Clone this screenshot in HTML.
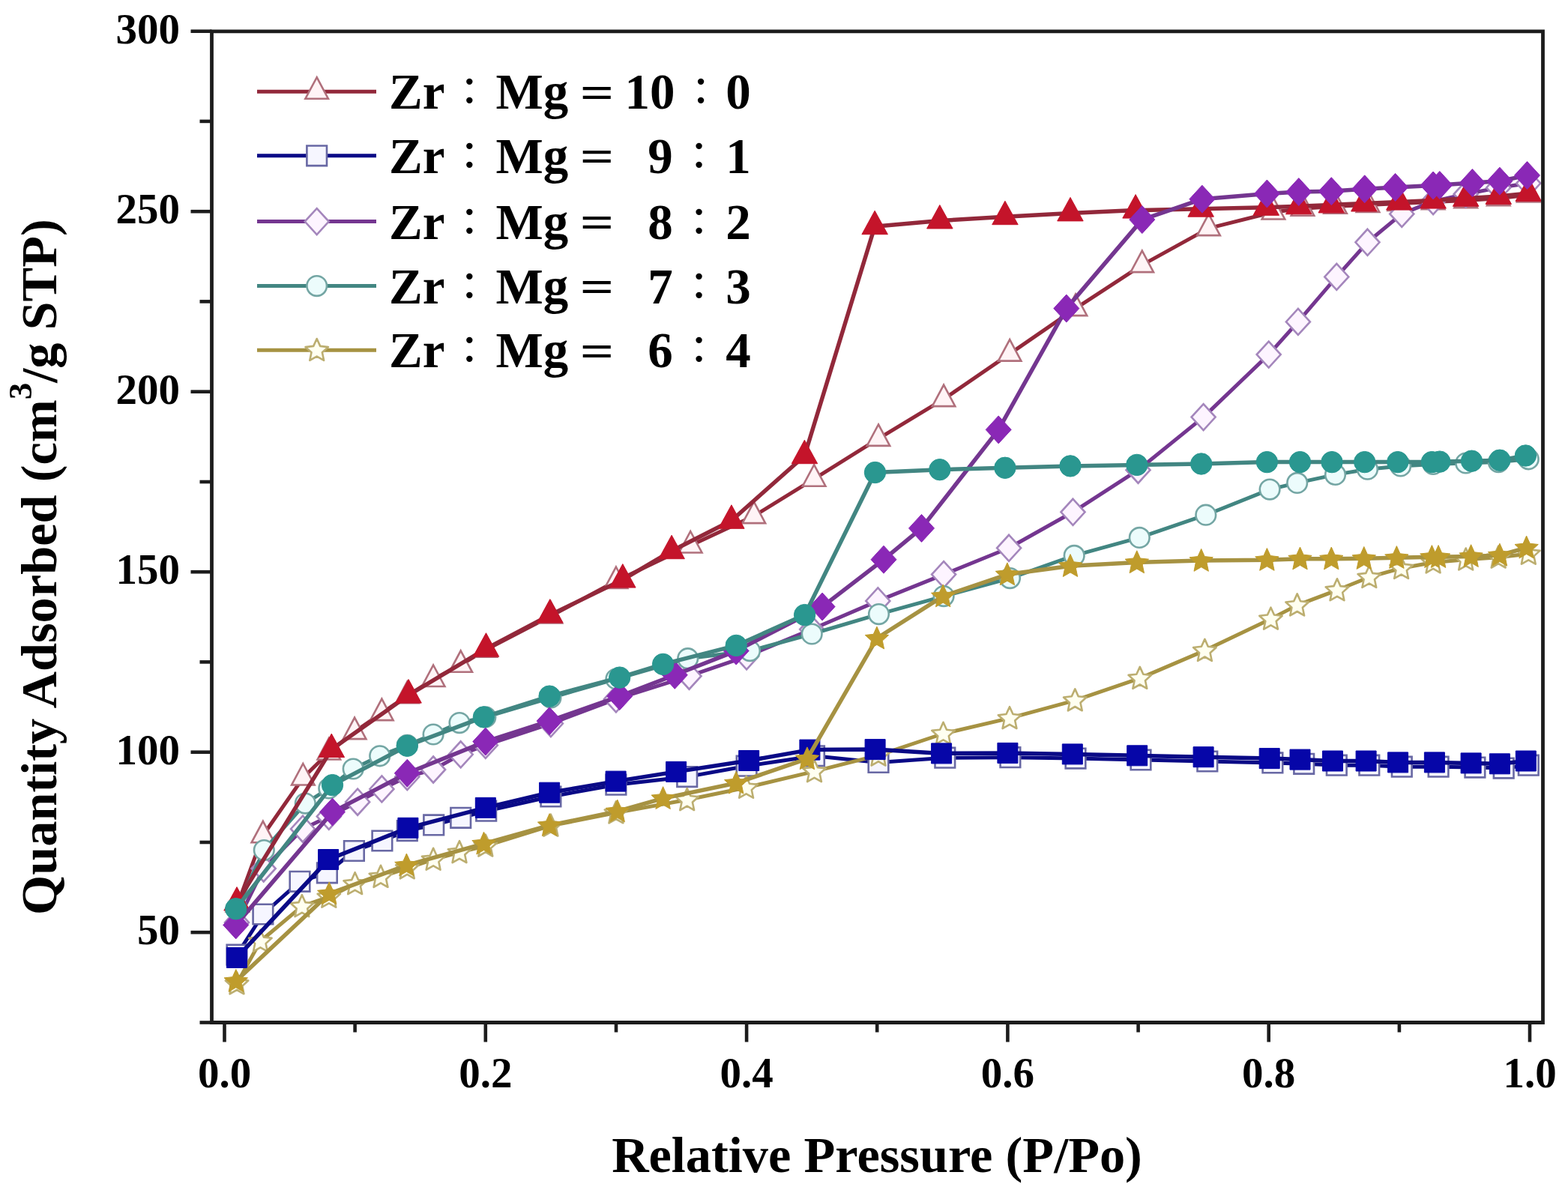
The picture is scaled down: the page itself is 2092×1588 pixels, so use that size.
<!DOCTYPE html>
<html><head><meta charset="utf-8"><title>Adsorption isotherms</title>
<style>html,body{margin:0;padding:0;background:#fff;overflow:hidden}svg{display:block}text{font-family:"Liberation Serif","Times New Roman",serif;font-weight:bold;fill:#000}.cj{font-family:"Liberation Serif","NanumGothic",sans-serif;font-size:55px}</style></head><body>
<svg width="2092" height="1588" viewBox="0 0 2092 1588">
<rect width="2092" height="1588" fill="#fff"/>
<g id="data">
<polyline points="316.9,1207.0 350.9,1114.8 404.3,1038.0 438.8,1004.0 473.1,976.6 509.4,951.6 543.3,928.6 578.1,906.5 614.7,887.3 647.8,867.2 734.9,822.0 821.9,775.5 921.2,728.0 1005.9,688.6 1086.1,639.2 1172.0,585.4 1259.1,532.6 1347.2,472.1 1435.0,411.6 1523.8,353.6 1612.6,304.6 1699.0,283.0 1738.0,278.2 1781.5,275.3 1825.1,273.4 1866.9,271.5 1912.1,269.6 1955.7,267.6 1999.2,264.8 2039.3,260.0" fill="none" stroke="#92283a" stroke-width="5" stroke-linejoin="round" stroke-linecap="round"/>
<path d="M316.9,1188.0L332.2,1216.5L301.7,1216.5Z" fill="#fff4f6" stroke="#b0707c" stroke-width="2.6" stroke-linejoin="miter"/>
<path d="M350.9,1095.8L366.1,1124.3L335.6,1124.3Z" fill="#fff4f6" stroke="#b0707c" stroke-width="2.6" stroke-linejoin="miter"/>
<path d="M404.3,1019.0L419.6,1047.5L389.1,1047.5Z" fill="#fff4f6" stroke="#b0707c" stroke-width="2.6" stroke-linejoin="miter"/>
<path d="M438.8,985.0L454.1,1013.5L423.6,1013.5Z" fill="#fff4f6" stroke="#b0707c" stroke-width="2.6" stroke-linejoin="miter"/>
<path d="M473.1,957.6L488.4,986.1L457.9,986.1Z" fill="#fff4f6" stroke="#b0707c" stroke-width="2.6" stroke-linejoin="miter"/>
<path d="M509.4,932.6L524.6,961.1L494.1,961.1Z" fill="#fff4f6" stroke="#b0707c" stroke-width="2.6" stroke-linejoin="miter"/>
<path d="M543.3,909.6L558.6,938.1L528.1,938.1Z" fill="#fff4f6" stroke="#b0707c" stroke-width="2.6" stroke-linejoin="miter"/>
<path d="M578.1,887.5L593.4,916.0L562.9,916.0Z" fill="#fff4f6" stroke="#b0707c" stroke-width="2.6" stroke-linejoin="miter"/>
<path d="M614.7,868.3L630.0,896.8L599.5,896.8Z" fill="#fff4f6" stroke="#b0707c" stroke-width="2.6" stroke-linejoin="miter"/>
<path d="M647.8,848.2L663.0,876.7L632.5,876.7Z" fill="#fff4f6" stroke="#b0707c" stroke-width="2.6" stroke-linejoin="miter"/>
<path d="M734.9,803.0L750.1,831.5L719.6,831.5Z" fill="#fff4f6" stroke="#b0707c" stroke-width="2.6" stroke-linejoin="miter"/>
<path d="M821.9,756.5L837.2,785.0L806.7,785.0Z" fill="#fff4f6" stroke="#b0707c" stroke-width="2.6" stroke-linejoin="miter"/>
<path d="M921.2,709.0L936.5,737.5L906.0,737.5Z" fill="#fff4f6" stroke="#b0707c" stroke-width="2.6" stroke-linejoin="miter"/>
<path d="M1005.9,669.6L1021.1,698.1L990.6,698.1Z" fill="#fff4f6" stroke="#b0707c" stroke-width="2.6" stroke-linejoin="miter"/>
<path d="M1086.1,620.2L1101.4,648.7L1070.9,648.7Z" fill="#fff4f6" stroke="#b0707c" stroke-width="2.6" stroke-linejoin="miter"/>
<path d="M1172.0,566.4L1187.2,594.9L1156.7,594.9Z" fill="#fff4f6" stroke="#b0707c" stroke-width="2.6" stroke-linejoin="miter"/>
<path d="M1259.1,513.6L1274.3,542.1L1243.8,542.1Z" fill="#fff4f6" stroke="#b0707c" stroke-width="2.6" stroke-linejoin="miter"/>
<path d="M1347.2,453.1L1362.4,481.6L1331.9,481.6Z" fill="#fff4f6" stroke="#b0707c" stroke-width="2.6" stroke-linejoin="miter"/>
<path d="M1435.0,392.6L1450.2,421.1L1419.7,421.1Z" fill="#fff4f6" stroke="#b0707c" stroke-width="2.6" stroke-linejoin="miter"/>
<path d="M1523.8,334.6L1539.0,363.1L1508.5,363.1Z" fill="#fff4f6" stroke="#b0707c" stroke-width="2.6" stroke-linejoin="miter"/>
<path d="M1612.6,285.6L1627.8,314.1L1597.3,314.1Z" fill="#fff4f6" stroke="#b0707c" stroke-width="2.6" stroke-linejoin="miter"/>
<path d="M1699.0,264.0L1714.2,292.5L1683.7,292.5Z" fill="#fff4f6" stroke="#b0707c" stroke-width="2.6" stroke-linejoin="miter"/>
<path d="M1738.0,259.2L1753.2,287.7L1722.7,287.7Z" fill="#fff4f6" stroke="#b0707c" stroke-width="2.6" stroke-linejoin="miter"/>
<path d="M1781.5,256.3L1796.8,284.8L1766.3,284.8Z" fill="#fff4f6" stroke="#b0707c" stroke-width="2.6" stroke-linejoin="miter"/>
<path d="M1825.1,254.4L1840.3,282.9L1809.8,282.9Z" fill="#fff4f6" stroke="#b0707c" stroke-width="2.6" stroke-linejoin="miter"/>
<path d="M1866.9,252.5L1882.1,281.0L1851.6,281.0Z" fill="#fff4f6" stroke="#b0707c" stroke-width="2.6" stroke-linejoin="miter"/>
<path d="M1912.1,250.6L1927.4,279.1L1896.9,279.1Z" fill="#fff4f6" stroke="#b0707c" stroke-width="2.6" stroke-linejoin="miter"/>
<path d="M1955.7,248.6L1970.9,277.1L1940.4,277.1Z" fill="#fff4f6" stroke="#b0707c" stroke-width="2.6" stroke-linejoin="miter"/>
<path d="M1999.2,245.8L2014.5,274.3L1984.0,274.3Z" fill="#fff4f6" stroke="#b0707c" stroke-width="2.6" stroke-linejoin="miter"/>
<path d="M2039.3,241.0L2054.5,269.5L2024.0,269.5Z" fill="#fff4f6" stroke="#b0707c" stroke-width="2.6" stroke-linejoin="miter"/>
<polyline points="316.0,1274.2 350.9,1220.0 400.0,1176.3 436.4,1164.8 472.4,1135.5 509.9,1122.0 543.3,1108.6 578.7,1100.9 614.7,1091.3 648.7,1082.2 734.9,1063.0 821.9,1047.2 916.7,1036.6 996.1,1022.2 1086.5,1008.8 1172.0,1017.4 1260.8,1011.2 1347.9,1010.7 1435.0,1012.1 1522.0,1014.0 1610.8,1016.0 1697.9,1017.9 1739.7,1019.3 1783.3,1021.2 1826.8,1021.2 1870.3,1023.2 1919.1,1023.2 1967.9,1024.1 2006.2,1025.1 2039.3,1021.2" fill="none" stroke="#0a0a86" stroke-width="5" stroke-linejoin="round" stroke-linecap="round"/>
<path d="M302.7,1260.9h26.6v26.6h-26.6Z" fill="#f6f6ff" stroke="#6868a4" stroke-width="2.6" stroke-linejoin="miter"/>
<path d="M337.6,1206.7h26.6v26.6h-26.6Z" fill="#f6f6ff" stroke="#6868a4" stroke-width="2.6" stroke-linejoin="miter"/>
<path d="M386.7,1163.0h26.6v26.6h-26.6Z" fill="#f6f6ff" stroke="#6868a4" stroke-width="2.6" stroke-linejoin="miter"/>
<path d="M423.1,1151.5h26.6v26.6h-26.6Z" fill="#f6f6ff" stroke="#6868a4" stroke-width="2.6" stroke-linejoin="miter"/>
<path d="M459.1,1122.2h26.6v26.6h-26.6Z" fill="#f6f6ff" stroke="#6868a4" stroke-width="2.6" stroke-linejoin="miter"/>
<path d="M496.6,1108.7h26.6v26.6h-26.6Z" fill="#f6f6ff" stroke="#6868a4" stroke-width="2.6" stroke-linejoin="miter"/>
<path d="M530.0,1095.3h26.6v26.6h-26.6Z" fill="#f6f6ff" stroke="#6868a4" stroke-width="2.6" stroke-linejoin="miter"/>
<path d="M565.4,1087.6h26.6v26.6h-26.6Z" fill="#f6f6ff" stroke="#6868a4" stroke-width="2.6" stroke-linejoin="miter"/>
<path d="M601.4,1078.0h26.6v26.6h-26.6Z" fill="#f6f6ff" stroke="#6868a4" stroke-width="2.6" stroke-linejoin="miter"/>
<path d="M635.4,1068.9h26.6v26.6h-26.6Z" fill="#f6f6ff" stroke="#6868a4" stroke-width="2.6" stroke-linejoin="miter"/>
<path d="M721.6,1049.7h26.6v26.6h-26.6Z" fill="#f6f6ff" stroke="#6868a4" stroke-width="2.6" stroke-linejoin="miter"/>
<path d="M808.6,1033.9h26.6v26.6h-26.6Z" fill="#f6f6ff" stroke="#6868a4" stroke-width="2.6" stroke-linejoin="miter"/>
<path d="M903.4,1023.3h26.6v26.6h-26.6Z" fill="#f6f6ff" stroke="#6868a4" stroke-width="2.6" stroke-linejoin="miter"/>
<path d="M982.8,1008.9h26.6v26.6h-26.6Z" fill="#f6f6ff" stroke="#6868a4" stroke-width="2.6" stroke-linejoin="miter"/>
<path d="M1073.2,995.5h26.6v26.6h-26.6Z" fill="#f6f6ff" stroke="#6868a4" stroke-width="2.6" stroke-linejoin="miter"/>
<path d="M1158.7,1004.1h26.6v26.6h-26.6Z" fill="#f6f6ff" stroke="#6868a4" stroke-width="2.6" stroke-linejoin="miter"/>
<path d="M1247.5,997.9h26.6v26.6h-26.6Z" fill="#f6f6ff" stroke="#6868a4" stroke-width="2.6" stroke-linejoin="miter"/>
<path d="M1334.6,997.4h26.6v26.6h-26.6Z" fill="#f6f6ff" stroke="#6868a4" stroke-width="2.6" stroke-linejoin="miter"/>
<path d="M1421.7,998.8h26.6v26.6h-26.6Z" fill="#f6f6ff" stroke="#6868a4" stroke-width="2.6" stroke-linejoin="miter"/>
<path d="M1508.7,1000.7h26.6v26.6h-26.6Z" fill="#f6f6ff" stroke="#6868a4" stroke-width="2.6" stroke-linejoin="miter"/>
<path d="M1597.5,1002.7h26.6v26.6h-26.6Z" fill="#f6f6ff" stroke="#6868a4" stroke-width="2.6" stroke-linejoin="miter"/>
<path d="M1684.6,1004.6h26.6v26.6h-26.6Z" fill="#f6f6ff" stroke="#6868a4" stroke-width="2.6" stroke-linejoin="miter"/>
<path d="M1726.4,1006.0h26.6v26.6h-26.6Z" fill="#f6f6ff" stroke="#6868a4" stroke-width="2.6" stroke-linejoin="miter"/>
<path d="M1770.0,1007.9h26.6v26.6h-26.6Z" fill="#f6f6ff" stroke="#6868a4" stroke-width="2.6" stroke-linejoin="miter"/>
<path d="M1813.5,1007.9h26.6v26.6h-26.6Z" fill="#f6f6ff" stroke="#6868a4" stroke-width="2.6" stroke-linejoin="miter"/>
<path d="M1857.0,1009.9h26.6v26.6h-26.6Z" fill="#f6f6ff" stroke="#6868a4" stroke-width="2.6" stroke-linejoin="miter"/>
<path d="M1905.8,1009.9h26.6v26.6h-26.6Z" fill="#f6f6ff" stroke="#6868a4" stroke-width="2.6" stroke-linejoin="miter"/>
<path d="M1954.6,1010.8h26.6v26.6h-26.6Z" fill="#f6f6ff" stroke="#6868a4" stroke-width="2.6" stroke-linejoin="miter"/>
<path d="M1992.9,1011.8h26.6v26.6h-26.6Z" fill="#f6f6ff" stroke="#6868a4" stroke-width="2.6" stroke-linejoin="miter"/>
<path d="M2026.0,1007.9h26.6v26.6h-26.6Z" fill="#f6f6ff" stroke="#6868a4" stroke-width="2.6" stroke-linejoin="miter"/>
<polyline points="316.0,1231.0 351.7,1159.0 404.0,1106.2 438.8,1089.4 477.1,1070.2 509.4,1052.9 543.3,1036.6 578.1,1027.0 614.7,1006.8 647.8,994.4 734.9,965.6 821.9,932.9 919.5,902.2 996.1,875.8 1083.2,839.8 1171.3,801.9 1259.1,766.6 1346.1,731.3 1431.5,683.3 1518.5,627.2 1605.6,556.6 1692.7,473.1 1731.9,429.4 1783.3,369.4 1824.5,323.3 1870.3,285.4 1912.1,268.6 1955.7,259.0 1999.2,250.4 2039.3,244.6" fill="none" stroke="#743690" stroke-width="5" stroke-linejoin="round" stroke-linecap="round"/>
<path d="M316.0,1213.5L332.0,1231.0L316.0,1248.5L300.0,1231.0Z" fill="#fdf4ff" stroke="#a486bc" stroke-width="2.6" stroke-linejoin="miter"/>
<path d="M351.7,1141.5L367.7,1159.0L351.7,1176.5L335.7,1159.0Z" fill="#fdf4ff" stroke="#a486bc" stroke-width="2.6" stroke-linejoin="miter"/>
<path d="M404.0,1088.7L420.0,1106.2L404.0,1123.7L388.0,1106.2Z" fill="#fdf4ff" stroke="#a486bc" stroke-width="2.6" stroke-linejoin="miter"/>
<path d="M438.8,1071.9L454.8,1089.4L438.8,1106.9L422.8,1089.4Z" fill="#fdf4ff" stroke="#a486bc" stroke-width="2.6" stroke-linejoin="miter"/>
<path d="M477.1,1052.7L493.1,1070.2L477.1,1087.7L461.1,1070.2Z" fill="#fdf4ff" stroke="#a486bc" stroke-width="2.6" stroke-linejoin="miter"/>
<path d="M509.4,1035.4L525.4,1052.9L509.4,1070.4L493.4,1052.9Z" fill="#fdf4ff" stroke="#a486bc" stroke-width="2.6" stroke-linejoin="miter"/>
<path d="M543.3,1019.1L559.3,1036.6L543.3,1054.1L527.3,1036.6Z" fill="#fdf4ff" stroke="#a486bc" stroke-width="2.6" stroke-linejoin="miter"/>
<path d="M578.1,1009.5L594.1,1027.0L578.1,1044.5L562.1,1027.0Z" fill="#fdf4ff" stroke="#a486bc" stroke-width="2.6" stroke-linejoin="miter"/>
<path d="M614.7,989.3L630.7,1006.8L614.7,1024.3L598.7,1006.8Z" fill="#fdf4ff" stroke="#a486bc" stroke-width="2.6" stroke-linejoin="miter"/>
<path d="M647.8,976.9L663.8,994.4L647.8,1011.9L631.8,994.4Z" fill="#fdf4ff" stroke="#a486bc" stroke-width="2.6" stroke-linejoin="miter"/>
<path d="M734.9,948.1L750.9,965.6L734.9,983.1L718.9,965.6Z" fill="#fdf4ff" stroke="#a486bc" stroke-width="2.6" stroke-linejoin="miter"/>
<path d="M821.9,915.4L837.9,932.9L821.9,950.4L805.9,932.9Z" fill="#fdf4ff" stroke="#a486bc" stroke-width="2.6" stroke-linejoin="miter"/>
<path d="M919.5,884.7L935.5,902.2L919.5,919.7L903.5,902.2Z" fill="#fdf4ff" stroke="#a486bc" stroke-width="2.6" stroke-linejoin="miter"/>
<path d="M996.1,858.3L1012.1,875.8L996.1,893.3L980.1,875.8Z" fill="#fdf4ff" stroke="#a486bc" stroke-width="2.6" stroke-linejoin="miter"/>
<path d="M1083.2,822.3L1099.2,839.8L1083.2,857.3L1067.2,839.8Z" fill="#fdf4ff" stroke="#a486bc" stroke-width="2.6" stroke-linejoin="miter"/>
<path d="M1171.3,784.4L1187.3,801.9L1171.3,819.4L1155.3,801.9Z" fill="#fdf4ff" stroke="#a486bc" stroke-width="2.6" stroke-linejoin="miter"/>
<path d="M1259.1,749.1L1275.1,766.6L1259.1,784.1L1243.1,766.6Z" fill="#fdf4ff" stroke="#a486bc" stroke-width="2.6" stroke-linejoin="miter"/>
<path d="M1346.1,713.8L1362.1,731.3L1346.1,748.8L1330.1,731.3Z" fill="#fdf4ff" stroke="#a486bc" stroke-width="2.6" stroke-linejoin="miter"/>
<path d="M1431.5,665.8L1447.5,683.3L1431.5,700.8L1415.5,683.3Z" fill="#fdf4ff" stroke="#a486bc" stroke-width="2.6" stroke-linejoin="miter"/>
<path d="M1518.5,609.7L1534.5,627.2L1518.5,644.7L1502.5,627.2Z" fill="#fdf4ff" stroke="#a486bc" stroke-width="2.6" stroke-linejoin="miter"/>
<path d="M1605.6,539.1L1621.6,556.6L1605.6,574.1L1589.6,556.6Z" fill="#fdf4ff" stroke="#a486bc" stroke-width="2.6" stroke-linejoin="miter"/>
<path d="M1692.7,455.6L1708.7,473.1L1692.7,490.6L1676.7,473.1Z" fill="#fdf4ff" stroke="#a486bc" stroke-width="2.6" stroke-linejoin="miter"/>
<path d="M1731.9,411.9L1747.9,429.4L1731.9,446.9L1715.9,429.4Z" fill="#fdf4ff" stroke="#a486bc" stroke-width="2.6" stroke-linejoin="miter"/>
<path d="M1783.3,351.9L1799.3,369.4L1783.3,386.9L1767.3,369.4Z" fill="#fdf4ff" stroke="#a486bc" stroke-width="2.6" stroke-linejoin="miter"/>
<path d="M1824.5,305.8L1840.5,323.3L1824.5,340.8L1808.5,323.3Z" fill="#fdf4ff" stroke="#a486bc" stroke-width="2.6" stroke-linejoin="miter"/>
<path d="M1870.3,267.9L1886.3,285.4L1870.3,302.9L1854.3,285.4Z" fill="#fdf4ff" stroke="#a486bc" stroke-width="2.6" stroke-linejoin="miter"/>
<path d="M1912.1,251.1L1928.1,268.6L1912.1,286.1L1896.1,268.6Z" fill="#fdf4ff" stroke="#a486bc" stroke-width="2.6" stroke-linejoin="miter"/>
<path d="M1955.7,241.5L1971.7,259.0L1955.7,276.5L1939.7,259.0Z" fill="#fdf4ff" stroke="#a486bc" stroke-width="2.6" stroke-linejoin="miter"/>
<path d="M1999.2,232.9L2015.2,250.4L1999.2,267.9L1983.2,250.4Z" fill="#fdf4ff" stroke="#a486bc" stroke-width="2.6" stroke-linejoin="miter"/>
<path d="M2039.3,227.1L2055.3,244.6L2039.3,262.1L2023.3,244.6Z" fill="#fdf4ff" stroke="#a486bc" stroke-width="2.6" stroke-linejoin="miter"/>
<polyline points="316.0,1211.8 352.3,1134.5 407.3,1072.1 438.8,1052.0 471.2,1026.0 506.7,1008.8 543.3,994.4 578.1,980.0 613.0,964.6 647.8,956.9 734.9,931.0 821.9,906.0 917.7,878.7 1000.5,868.6 1083.2,846.0 1172.5,819.6 1259.1,795.6 1347.5,771.6 1433.2,741.4 1520.3,717.4 1608.8,687.2 1694.1,653.1 1730.7,644.4 1781.5,633.4 1824.5,626.2 1868.6,621.9 1912.1,619.5 1955.7,618.0 1999.2,616.6 2039.3,612.8" fill="none" stroke="#428682" stroke-width="5" stroke-linejoin="round" stroke-linecap="round"/>
<circle cx="316.0" cy="1211.8" r="13.3" fill="#ecfcfc" stroke="#74a6a4" stroke-width="2.6"/>
<circle cx="352.3" cy="1134.5" r="13.3" fill="#ecfcfc" stroke="#74a6a4" stroke-width="2.6"/>
<circle cx="407.3" cy="1072.1" r="13.3" fill="#ecfcfc" stroke="#74a6a4" stroke-width="2.6"/>
<circle cx="438.8" cy="1052.0" r="13.3" fill="#ecfcfc" stroke="#74a6a4" stroke-width="2.6"/>
<circle cx="471.2" cy="1026.0" r="13.3" fill="#ecfcfc" stroke="#74a6a4" stroke-width="2.6"/>
<circle cx="506.7" cy="1008.8" r="13.3" fill="#ecfcfc" stroke="#74a6a4" stroke-width="2.6"/>
<circle cx="543.3" cy="994.4" r="13.3" fill="#ecfcfc" stroke="#74a6a4" stroke-width="2.6"/>
<circle cx="578.1" cy="980.0" r="13.3" fill="#ecfcfc" stroke="#74a6a4" stroke-width="2.6"/>
<circle cx="613.0" cy="964.6" r="13.3" fill="#ecfcfc" stroke="#74a6a4" stroke-width="2.6"/>
<circle cx="647.8" cy="956.9" r="13.3" fill="#ecfcfc" stroke="#74a6a4" stroke-width="2.6"/>
<circle cx="734.9" cy="931.0" r="13.3" fill="#ecfcfc" stroke="#74a6a4" stroke-width="2.6"/>
<circle cx="821.9" cy="906.0" r="13.3" fill="#ecfcfc" stroke="#74a6a4" stroke-width="2.6"/>
<circle cx="917.7" cy="878.7" r="13.3" fill="#ecfcfc" stroke="#74a6a4" stroke-width="2.6"/>
<circle cx="1000.5" cy="868.6" r="13.3" fill="#ecfcfc" stroke="#74a6a4" stroke-width="2.6"/>
<circle cx="1083.2" cy="846.0" r="13.3" fill="#ecfcfc" stroke="#74a6a4" stroke-width="2.6"/>
<circle cx="1172.5" cy="819.6" r="13.3" fill="#ecfcfc" stroke="#74a6a4" stroke-width="2.6"/>
<circle cx="1259.1" cy="795.6" r="13.3" fill="#ecfcfc" stroke="#74a6a4" stroke-width="2.6"/>
<circle cx="1347.5" cy="771.6" r="13.3" fill="#ecfcfc" stroke="#74a6a4" stroke-width="2.6"/>
<circle cx="1433.2" cy="741.4" r="13.3" fill="#ecfcfc" stroke="#74a6a4" stroke-width="2.6"/>
<circle cx="1520.3" cy="717.4" r="13.3" fill="#ecfcfc" stroke="#74a6a4" stroke-width="2.6"/>
<circle cx="1608.8" cy="687.2" r="13.3" fill="#ecfcfc" stroke="#74a6a4" stroke-width="2.6"/>
<circle cx="1694.1" cy="653.1" r="13.3" fill="#ecfcfc" stroke="#74a6a4" stroke-width="2.6"/>
<circle cx="1730.7" cy="644.4" r="13.3" fill="#ecfcfc" stroke="#74a6a4" stroke-width="2.6"/>
<circle cx="1781.5" cy="633.4" r="13.3" fill="#ecfcfc" stroke="#74a6a4" stroke-width="2.6"/>
<circle cx="1824.5" cy="626.2" r="13.3" fill="#ecfcfc" stroke="#74a6a4" stroke-width="2.6"/>
<circle cx="1868.6" cy="621.9" r="13.3" fill="#ecfcfc" stroke="#74a6a4" stroke-width="2.6"/>
<circle cx="1912.1" cy="619.5" r="13.3" fill="#ecfcfc" stroke="#74a6a4" stroke-width="2.6"/>
<circle cx="1955.7" cy="618.0" r="13.3" fill="#ecfcfc" stroke="#74a6a4" stroke-width="2.6"/>
<circle cx="1999.2" cy="616.6" r="13.3" fill="#ecfcfc" stroke="#74a6a4" stroke-width="2.6"/>
<circle cx="2039.3" cy="612.8" r="13.3" fill="#ecfcfc" stroke="#74a6a4" stroke-width="2.6"/>
<polyline points="316.0,1312.6 347.4,1256.0 402.9,1209.4 438.8,1196.9 473.6,1179.4 508.0,1170.0 543.3,1158.5 578.1,1147.0 613.0,1137.4 647.8,1128.8 734.9,1101.9 821.9,1084.6 916.7,1067.3 995.6,1051.0 1086.5,1029.4 1172.0,1007.8 1258.5,979.0 1347.0,958.4 1434.3,934.6 1520.8,905.1 1607.4,868.1 1695.5,825.9 1730.7,807.6 1784.0,787.5 1826.8,770.2 1869.6,758.2 1912.1,750.5 1955.7,746.7 1999.2,743.8 2039.3,739.0" fill="none" stroke="#a69242" stroke-width="5" stroke-linejoin="round" stroke-linecap="round"/>
<path d="M316.0,1297.4L320.5,1307.3L331.3,1308.5L323.3,1315.7L325.4,1326.3L316.0,1321.0L306.6,1326.3L308.8,1315.7L300.8,1308.5L311.6,1307.3Z" fill="#fffff0" stroke="#bcae70" stroke-width="2.6" stroke-linejoin="round"/>
<path d="M347.4,1240.8L351.9,1250.6L362.6,1251.8L354.6,1259.1L356.8,1269.7L347.4,1264.4L338.0,1269.7L340.2,1259.1L332.2,1251.8L342.9,1250.6Z" fill="#fffff0" stroke="#bcae70" stroke-width="2.6" stroke-linejoin="round"/>
<path d="M402.9,1194.2L407.4,1204.1L418.2,1205.3L410.2,1212.5L412.3,1223.1L402.9,1217.8L393.5,1223.1L395.7,1212.5L387.7,1205.3L398.5,1204.1Z" fill="#fffff0" stroke="#bcae70" stroke-width="2.6" stroke-linejoin="round"/>
<path d="M438.8,1181.7L443.3,1191.6L454.0,1192.8L446.0,1200.1L448.2,1210.7L438.8,1205.3L429.4,1210.7L431.6,1200.1L423.6,1192.8L434.4,1191.6Z" fill="#fffff0" stroke="#bcae70" stroke-width="2.6" stroke-linejoin="round"/>
<path d="M473.6,1164.2L478.1,1174.1L488.9,1175.3L480.9,1182.5L483.1,1193.1L473.6,1187.8L464.2,1193.1L466.4,1182.5L458.4,1175.3L469.2,1174.1Z" fill="#fffff0" stroke="#bcae70" stroke-width="2.6" stroke-linejoin="round"/>
<path d="M508.0,1154.8L512.4,1164.7L523.2,1165.9L515.2,1173.2L517.4,1183.8L508.0,1178.4L498.6,1183.8L500.7,1173.2L492.7,1165.9L503.5,1164.7Z" fill="#fffff0" stroke="#bcae70" stroke-width="2.6" stroke-linejoin="round"/>
<path d="M543.3,1143.3L547.8,1153.2L558.5,1154.4L550.5,1161.7L552.7,1172.3L543.3,1166.9L533.9,1172.3L536.1,1161.7L528.1,1154.4L538.8,1153.2Z" fill="#fffff0" stroke="#bcae70" stroke-width="2.6" stroke-linejoin="round"/>
<path d="M578.1,1131.8L582.6,1141.7L593.4,1142.9L585.4,1150.1L587.5,1160.7L578.1,1155.4L568.7,1160.7L570.9,1150.1L562.9,1142.9L573.7,1141.7Z" fill="#fffff0" stroke="#bcae70" stroke-width="2.6" stroke-linejoin="round"/>
<path d="M613.0,1122.2L617.4,1132.1L628.2,1133.3L620.2,1140.5L622.4,1151.1L613.0,1145.8L603.6,1151.1L605.7,1140.5L597.8,1133.3L608.5,1132.1Z" fill="#fffff0" stroke="#bcae70" stroke-width="2.6" stroke-linejoin="round"/>
<path d="M647.8,1113.6L652.3,1123.4L663.0,1124.6L655.0,1131.9L657.2,1142.5L647.8,1137.2L638.4,1142.5L640.6,1131.9L632.6,1124.6L643.3,1123.4Z" fill="#fffff0" stroke="#bcae70" stroke-width="2.6" stroke-linejoin="round"/>
<path d="M734.9,1086.7L739.3,1096.5L750.1,1097.7L742.1,1105.0L744.3,1115.6L734.9,1110.3L725.5,1115.6L727.6,1105.0L719.7,1097.7L730.4,1096.5Z" fill="#fffff0" stroke="#bcae70" stroke-width="2.6" stroke-linejoin="round"/>
<path d="M821.9,1069.4L826.4,1079.3L837.2,1080.5L829.2,1087.7L831.4,1098.3L821.9,1093.0L812.5,1098.3L814.7,1087.7L806.7,1080.5L817.5,1079.3Z" fill="#fffff0" stroke="#bcae70" stroke-width="2.6" stroke-linejoin="round"/>
<path d="M916.7,1052.1L921.2,1062.0L931.9,1063.2L923.9,1070.5L926.1,1081.1L916.7,1075.7L907.3,1081.1L909.5,1070.5L901.5,1063.2L912.2,1062.0Z" fill="#fffff0" stroke="#bcae70" stroke-width="2.6" stroke-linejoin="round"/>
<path d="M995.6,1035.8L1000.0,1045.7L1010.8,1046.9L1002.8,1054.1L1005.0,1064.7L995.6,1059.4L986.2,1064.7L988.3,1054.1L980.4,1046.9L991.1,1045.7Z" fill="#fffff0" stroke="#bcae70" stroke-width="2.6" stroke-linejoin="round"/>
<path d="M1086.5,1014.2L1091.0,1024.1L1101.7,1025.3L1093.7,1032.5L1095.9,1043.1L1086.5,1037.8L1077.1,1043.1L1079.3,1032.5L1071.3,1025.3L1082.0,1024.1Z" fill="#fffff0" stroke="#bcae70" stroke-width="2.6" stroke-linejoin="round"/>
<path d="M1172.0,992.6L1176.5,1002.5L1187.2,1003.7L1179.2,1010.9L1181.4,1021.5L1172.0,1016.2L1162.6,1021.5L1164.8,1010.9L1156.8,1003.7L1167.5,1002.5Z" fill="#fffff0" stroke="#bcae70" stroke-width="2.6" stroke-linejoin="round"/>
<path d="M1258.5,963.8L1263.0,973.7L1273.8,974.9L1265.8,982.1L1267.9,992.7L1258.5,987.4L1249.1,992.7L1251.3,982.1L1243.3,974.9L1254.1,973.7Z" fill="#fffff0" stroke="#bcae70" stroke-width="2.6" stroke-linejoin="round"/>
<path d="M1347.0,943.2L1351.5,953.0L1362.2,954.2L1354.2,961.5L1356.4,972.1L1347.0,966.8L1337.6,972.1L1339.8,961.5L1331.8,954.2L1342.5,953.0Z" fill="#fffff0" stroke="#bcae70" stroke-width="2.6" stroke-linejoin="round"/>
<path d="M1434.3,919.4L1438.7,929.3L1449.5,930.5L1441.5,937.7L1443.7,948.3L1434.3,943.0L1424.9,948.3L1427.0,937.7L1419.0,930.5L1429.8,929.3Z" fill="#fffff0" stroke="#bcae70" stroke-width="2.6" stroke-linejoin="round"/>
<path d="M1520.8,889.9L1525.3,899.7L1536.0,900.9L1528.0,908.2L1530.2,918.8L1520.8,913.5L1511.4,918.8L1513.6,908.2L1505.6,900.9L1516.3,899.7Z" fill="#fffff0" stroke="#bcae70" stroke-width="2.6" stroke-linejoin="round"/>
<path d="M1607.4,852.9L1611.8,862.8L1622.6,864.0L1614.6,871.3L1616.8,881.9L1607.4,876.5L1598.0,881.9L1600.1,871.3L1592.1,864.0L1602.9,862.8Z" fill="#fffff0" stroke="#bcae70" stroke-width="2.6" stroke-linejoin="round"/>
<path d="M1695.5,810.7L1700.0,820.5L1710.7,821.7L1702.7,829.0L1704.9,839.6L1695.5,834.3L1686.1,839.6L1688.3,829.0L1680.3,821.7L1691.0,820.5Z" fill="#fffff0" stroke="#bcae70" stroke-width="2.6" stroke-linejoin="round"/>
<path d="M1730.7,792.4L1735.1,802.3L1745.9,803.5L1737.9,810.8L1740.1,821.4L1730.7,816.0L1721.3,821.4L1723.4,810.8L1715.4,803.5L1726.2,802.3Z" fill="#fffff0" stroke="#bcae70" stroke-width="2.6" stroke-linejoin="round"/>
<path d="M1784.0,772.3L1788.4,782.1L1799.2,783.3L1791.2,790.6L1793.4,801.2L1784.0,795.9L1774.6,801.2L1776.7,790.6L1768.7,783.3L1779.5,782.1Z" fill="#fffff0" stroke="#bcae70" stroke-width="2.6" stroke-linejoin="round"/>
<path d="M1826.8,755.0L1831.3,764.9L1842.0,766.1L1834.0,773.3L1836.2,783.9L1826.8,778.6L1817.4,783.9L1819.6,773.3L1811.6,766.1L1822.3,764.9Z" fill="#fffff0" stroke="#bcae70" stroke-width="2.6" stroke-linejoin="round"/>
<path d="M1869.6,743.0L1874.1,752.9L1884.9,754.1L1876.9,761.3L1879.0,771.9L1869.6,766.6L1860.2,771.9L1862.4,761.3L1854.4,754.1L1865.2,752.9Z" fill="#fffff0" stroke="#bcae70" stroke-width="2.6" stroke-linejoin="round"/>
<path d="M1912.1,735.3L1916.6,745.2L1927.3,746.4L1919.4,753.7L1921.5,764.3L1912.1,758.9L1902.7,764.3L1904.9,753.7L1896.9,746.4L1907.7,745.2Z" fill="#fffff0" stroke="#bcae70" stroke-width="2.6" stroke-linejoin="round"/>
<path d="M1955.7,731.5L1960.1,741.3L1970.9,742.5L1962.9,749.8L1965.1,760.4L1955.7,755.1L1946.3,760.4L1948.4,749.8L1940.4,742.5L1951.2,741.3Z" fill="#fffff0" stroke="#bcae70" stroke-width="2.6" stroke-linejoin="round"/>
<path d="M1999.2,728.6L2003.7,738.5L2014.4,739.7L2006.4,746.9L2008.6,757.5L1999.2,752.2L1989.8,757.5L1992.0,746.9L1984.0,739.7L1994.7,738.5Z" fill="#fffff0" stroke="#bcae70" stroke-width="2.6" stroke-linejoin="round"/>
<path d="M2039.3,723.8L2043.7,733.7L2054.5,734.9L2046.5,742.1L2048.7,752.7L2039.3,747.4L2029.9,752.7L2032.0,742.1L2024.0,734.9L2034.8,733.7Z" fill="#fffff0" stroke="#bcae70" stroke-width="2.6" stroke-linejoin="round"/>
<polyline points="2039.3,258.0 1999.2,261.9 1955.7,264.8 1912.1,267.6 1866.9,269.6 1819.8,271.5 1776.3,273.4 1732.8,275.3 1689.2,276.8 1602.1,278.7 1515.1,280.6 1428.0,284.4 1340.9,289.2 1253.8,294.5 1167.1,302.2 1073.4,608.2 975.9,694.8 896.1,735.2 830.8,773.6 733.8,820.6 648.5,865.7 545.1,927.6 442.3,1000.1 316.0,1204.6" fill="none" stroke="#92283a" stroke-width="5.5" stroke-linejoin="round" stroke-linecap="round"/>
<path d="M2039.3,237.0L2056.5,268.5L2022.0,268.5Z" fill="#c4142a" stroke="#c4142a" stroke-width="1" stroke-linejoin="miter"/>
<path d="M1999.2,240.9L2016.5,272.4L1982.0,272.4Z" fill="#c4142a" stroke="#c4142a" stroke-width="1" stroke-linejoin="miter"/>
<path d="M1955.7,243.8L1972.9,275.3L1938.4,275.3Z" fill="#c4142a" stroke="#c4142a" stroke-width="1" stroke-linejoin="miter"/>
<path d="M1912.1,246.6L1929.4,278.1L1894.9,278.1Z" fill="#c4142a" stroke="#c4142a" stroke-width="1" stroke-linejoin="miter"/>
<path d="M1866.9,248.6L1884.1,280.1L1849.6,280.1Z" fill="#c4142a" stroke="#c4142a" stroke-width="1" stroke-linejoin="miter"/>
<path d="M1819.8,250.5L1837.1,282.0L1802.6,282.0Z" fill="#c4142a" stroke="#c4142a" stroke-width="1" stroke-linejoin="miter"/>
<path d="M1776.3,252.4L1793.5,283.9L1759.0,283.9Z" fill="#c4142a" stroke="#c4142a" stroke-width="1" stroke-linejoin="miter"/>
<path d="M1732.8,254.3L1750.0,285.8L1715.5,285.8Z" fill="#c4142a" stroke="#c4142a" stroke-width="1" stroke-linejoin="miter"/>
<path d="M1689.2,255.8L1706.5,287.3L1672.0,287.3Z" fill="#c4142a" stroke="#c4142a" stroke-width="1" stroke-linejoin="miter"/>
<path d="M1602.1,257.7L1619.4,289.2L1584.9,289.2Z" fill="#c4142a" stroke="#c4142a" stroke-width="1" stroke-linejoin="miter"/>
<path d="M1515.1,259.6L1532.3,291.1L1497.8,291.1Z" fill="#c4142a" stroke="#c4142a" stroke-width="1" stroke-linejoin="miter"/>
<path d="M1428.0,263.4L1445.2,294.9L1410.7,294.9Z" fill="#c4142a" stroke="#c4142a" stroke-width="1" stroke-linejoin="miter"/>
<path d="M1340.9,268.2L1358.2,299.7L1323.7,299.7Z" fill="#c4142a" stroke="#c4142a" stroke-width="1" stroke-linejoin="miter"/>
<path d="M1253.8,273.5L1271.1,305.0L1236.6,305.0Z" fill="#c4142a" stroke="#c4142a" stroke-width="1" stroke-linejoin="miter"/>
<path d="M1167.1,281.2L1184.4,312.7L1149.9,312.7Z" fill="#c4142a" stroke="#c4142a" stroke-width="1" stroke-linejoin="miter"/>
<path d="M1073.4,587.2L1090.7,618.7L1056.2,618.7Z" fill="#c4142a" stroke="#c4142a" stroke-width="1" stroke-linejoin="miter"/>
<path d="M975.9,673.8L993.1,705.3L958.6,705.3Z" fill="#c4142a" stroke="#c4142a" stroke-width="1" stroke-linejoin="miter"/>
<path d="M896.1,714.2L913.4,745.7L878.9,745.7Z" fill="#c4142a" stroke="#c4142a" stroke-width="1" stroke-linejoin="miter"/>
<path d="M830.8,752.6L848.1,784.1L813.6,784.1Z" fill="#c4142a" stroke="#c4142a" stroke-width="1" stroke-linejoin="miter"/>
<path d="M733.8,799.6L751.1,831.1L716.6,831.1Z" fill="#c4142a" stroke="#c4142a" stroke-width="1" stroke-linejoin="miter"/>
<path d="M648.5,844.7L665.7,876.2L631.2,876.2Z" fill="#c4142a" stroke="#c4142a" stroke-width="1" stroke-linejoin="miter"/>
<path d="M545.1,906.6L562.3,938.1L527.8,938.1Z" fill="#c4142a" stroke="#c4142a" stroke-width="1" stroke-linejoin="miter"/>
<path d="M442.3,979.1L459.6,1010.6L425.1,1010.6Z" fill="#c4142a" stroke="#c4142a" stroke-width="1" stroke-linejoin="miter"/>
<path d="M316.0,1183.6L333.3,1215.1L298.8,1215.1Z" fill="#c4142a" stroke="#c4142a" stroke-width="1" stroke-linejoin="miter"/>
<polyline points="2035.8,1015.5 2000.9,1019.3 1962.6,1018.4 1913.9,1017.4 1865.1,1017.4 1822.6,1015.5 1778.0,1015.5 1734.5,1013.6 1693.7,1012.1 1605.6,1010.2 1517.2,1008.3 1430.8,1006.4 1344.4,1004.9 1256.1,1005.4 1167.6,1000.1 1080.4,1000.6 999.2,1015.0 902.1,1029.9 821.6,1042.6 733.1,1057.7 647.8,1077.9 544.4,1104.8 438.1,1147.0 315.9,1278.0" fill="none" stroke="#0a0a86" stroke-width="5.5" stroke-linejoin="round" stroke-linecap="round"/>
<path d="M2022.3,1002.0h27.0v27.0h-27.0Z" fill="#0606a8" stroke="#0606a8" stroke-width="1" stroke-linejoin="miter"/>
<path d="M1987.4,1005.8h27.0v27.0h-27.0Z" fill="#0606a8" stroke="#0606a8" stroke-width="1" stroke-linejoin="miter"/>
<path d="M1949.1,1004.9h27.0v27.0h-27.0Z" fill="#0606a8" stroke="#0606a8" stroke-width="1" stroke-linejoin="miter"/>
<path d="M1900.4,1003.9h27.0v27.0h-27.0Z" fill="#0606a8" stroke="#0606a8" stroke-width="1" stroke-linejoin="miter"/>
<path d="M1851.6,1003.9h27.0v27.0h-27.0Z" fill="#0606a8" stroke="#0606a8" stroke-width="1" stroke-linejoin="miter"/>
<path d="M1809.1,1002.0h27.0v27.0h-27.0Z" fill="#0606a8" stroke="#0606a8" stroke-width="1" stroke-linejoin="miter"/>
<path d="M1764.5,1002.0h27.0v27.0h-27.0Z" fill="#0606a8" stroke="#0606a8" stroke-width="1" stroke-linejoin="miter"/>
<path d="M1721.0,1000.1h27.0v27.0h-27.0Z" fill="#0606a8" stroke="#0606a8" stroke-width="1" stroke-linejoin="miter"/>
<path d="M1680.2,998.6h27.0v27.0h-27.0Z" fill="#0606a8" stroke="#0606a8" stroke-width="1" stroke-linejoin="miter"/>
<path d="M1592.1,996.7h27.0v27.0h-27.0Z" fill="#0606a8" stroke="#0606a8" stroke-width="1" stroke-linejoin="miter"/>
<path d="M1503.7,994.8h27.0v27.0h-27.0Z" fill="#0606a8" stroke="#0606a8" stroke-width="1" stroke-linejoin="miter"/>
<path d="M1417.3,992.9h27.0v27.0h-27.0Z" fill="#0606a8" stroke="#0606a8" stroke-width="1" stroke-linejoin="miter"/>
<path d="M1330.9,991.4h27.0v27.0h-27.0Z" fill="#0606a8" stroke="#0606a8" stroke-width="1" stroke-linejoin="miter"/>
<path d="M1242.6,991.9h27.0v27.0h-27.0Z" fill="#0606a8" stroke="#0606a8" stroke-width="1" stroke-linejoin="miter"/>
<path d="M1154.1,986.6h27.0v27.0h-27.0Z" fill="#0606a8" stroke="#0606a8" stroke-width="1" stroke-linejoin="miter"/>
<path d="M1066.9,987.1h27.0v27.0h-27.0Z" fill="#0606a8" stroke="#0606a8" stroke-width="1" stroke-linejoin="miter"/>
<path d="M985.7,1001.5h27.0v27.0h-27.0Z" fill="#0606a8" stroke="#0606a8" stroke-width="1" stroke-linejoin="miter"/>
<path d="M888.6,1016.4h27.0v27.0h-27.0Z" fill="#0606a8" stroke="#0606a8" stroke-width="1" stroke-linejoin="miter"/>
<path d="M808.1,1029.1h27.0v27.0h-27.0Z" fill="#0606a8" stroke="#0606a8" stroke-width="1" stroke-linejoin="miter"/>
<path d="M719.6,1044.2h27.0v27.0h-27.0Z" fill="#0606a8" stroke="#0606a8" stroke-width="1" stroke-linejoin="miter"/>
<path d="M634.3,1064.4h27.0v27.0h-27.0Z" fill="#0606a8" stroke="#0606a8" stroke-width="1" stroke-linejoin="miter"/>
<path d="M530.9,1091.3h27.0v27.0h-27.0Z" fill="#0606a8" stroke="#0606a8" stroke-width="1" stroke-linejoin="miter"/>
<path d="M424.6,1133.5h27.0v27.0h-27.0Z" fill="#0606a8" stroke="#0606a8" stroke-width="1" stroke-linejoin="miter"/>
<path d="M302.4,1264.5h27.0v27.0h-27.0Z" fill="#0606a8" stroke="#0606a8" stroke-width="1" stroke-linejoin="miter"/>
<polyline points="2037.5,234.0 2000.9,241.7 1964.4,244.1 1920.8,247.0 1912.1,247.5 1861.6,249.9 1820.7,252.3 1776.3,255.2 1732.8,256.1 1690.4,258.5 1603.9,265.7 1523.8,293.1 1422.8,411.6 1332.2,573.4 1229.5,704.9 1179.0,746.7 1097.1,809.6 982.2,868.6 900.3,900.8 826.7,929.1 733.1,962.2 647.8,989.6 543.3,1031.8 443.5,1083.6 314.7,1234.4" fill="none" stroke="#743690" stroke-width="5.5" stroke-linejoin="round" stroke-linecap="round"/>
<path d="M2037.5,215.5L2054.5,234.0L2037.5,252.5L2020.5,234.0Z" fill="#8a28b6" stroke="#8a28b6" stroke-width="1" stroke-linejoin="miter"/>
<path d="M2000.9,223.2L2017.9,241.7L2000.9,260.2L1983.9,241.7Z" fill="#8a28b6" stroke="#8a28b6" stroke-width="1" stroke-linejoin="miter"/>
<path d="M1964.4,225.6L1981.4,244.1L1964.4,262.6L1947.4,244.1Z" fill="#8a28b6" stroke="#8a28b6" stroke-width="1" stroke-linejoin="miter"/>
<path d="M1920.8,228.5L1937.8,247.0L1920.8,265.5L1903.8,247.0Z" fill="#8a28b6" stroke="#8a28b6" stroke-width="1" stroke-linejoin="miter"/>
<path d="M1912.1,229.0L1929.1,247.5L1912.1,266.0L1895.1,247.5Z" fill="#8a28b6" stroke="#8a28b6" stroke-width="1" stroke-linejoin="miter"/>
<path d="M1861.6,231.4L1878.6,249.9L1861.6,268.4L1844.6,249.9Z" fill="#8a28b6" stroke="#8a28b6" stroke-width="1" stroke-linejoin="miter"/>
<path d="M1820.7,233.8L1837.7,252.3L1820.7,270.8L1803.7,252.3Z" fill="#8a28b6" stroke="#8a28b6" stroke-width="1" stroke-linejoin="miter"/>
<path d="M1776.3,236.7L1793.3,255.2L1776.3,273.7L1759.3,255.2Z" fill="#8a28b6" stroke="#8a28b6" stroke-width="1" stroke-linejoin="miter"/>
<path d="M1732.8,237.6L1749.8,256.1L1732.8,274.6L1715.8,256.1Z" fill="#8a28b6" stroke="#8a28b6" stroke-width="1" stroke-linejoin="miter"/>
<path d="M1690.4,240.0L1707.4,258.5L1690.4,277.0L1673.4,258.5Z" fill="#8a28b6" stroke="#8a28b6" stroke-width="1" stroke-linejoin="miter"/>
<path d="M1603.9,247.2L1620.9,265.7L1603.9,284.2L1586.9,265.7Z" fill="#8a28b6" stroke="#8a28b6" stroke-width="1" stroke-linejoin="miter"/>
<path d="M1523.8,274.6L1540.8,293.1L1523.8,311.6L1506.8,293.1Z" fill="#8a28b6" stroke="#8a28b6" stroke-width="1" stroke-linejoin="miter"/>
<path d="M1422.8,393.1L1439.8,411.6L1422.8,430.1L1405.8,411.6Z" fill="#8a28b6" stroke="#8a28b6" stroke-width="1" stroke-linejoin="miter"/>
<path d="M1332.2,554.9L1349.2,573.4L1332.2,591.9L1315.2,573.4Z" fill="#8a28b6" stroke="#8a28b6" stroke-width="1" stroke-linejoin="miter"/>
<path d="M1229.5,686.4L1246.5,704.9L1229.5,723.4L1212.5,704.9Z" fill="#8a28b6" stroke="#8a28b6" stroke-width="1" stroke-linejoin="miter"/>
<path d="M1179.0,728.2L1196.0,746.7L1179.0,765.2L1162.0,746.7Z" fill="#8a28b6" stroke="#8a28b6" stroke-width="1" stroke-linejoin="miter"/>
<path d="M1097.1,791.1L1114.1,809.6L1097.1,828.1L1080.1,809.6Z" fill="#8a28b6" stroke="#8a28b6" stroke-width="1" stroke-linejoin="miter"/>
<path d="M982.2,850.1L999.2,868.6L982.2,887.1L965.2,868.6Z" fill="#8a28b6" stroke="#8a28b6" stroke-width="1" stroke-linejoin="miter"/>
<path d="M900.3,882.3L917.3,900.8L900.3,919.3L883.3,900.8Z" fill="#8a28b6" stroke="#8a28b6" stroke-width="1" stroke-linejoin="miter"/>
<path d="M826.7,910.6L843.7,929.1L826.7,947.6L809.7,929.1Z" fill="#8a28b6" stroke="#8a28b6" stroke-width="1" stroke-linejoin="miter"/>
<path d="M733.1,943.7L750.1,962.2L733.1,980.7L716.1,962.2Z" fill="#8a28b6" stroke="#8a28b6" stroke-width="1" stroke-linejoin="miter"/>
<path d="M647.8,971.1L664.8,989.6L647.8,1008.1L630.8,989.6Z" fill="#8a28b6" stroke="#8a28b6" stroke-width="1" stroke-linejoin="miter"/>
<path d="M543.3,1013.3L560.3,1031.8L543.3,1050.3L526.3,1031.8Z" fill="#8a28b6" stroke="#8a28b6" stroke-width="1" stroke-linejoin="miter"/>
<path d="M443.5,1065.1L460.5,1083.6L443.5,1102.1L426.5,1083.6Z" fill="#8a28b6" stroke="#8a28b6" stroke-width="1" stroke-linejoin="miter"/>
<path d="M314.7,1215.9L331.7,1234.4L314.7,1252.9L297.7,1234.4Z" fill="#8a28b6" stroke="#8a28b6" stroke-width="1" stroke-linejoin="miter"/>
<polyline points="2035.4,608.0 2000.9,614.2 1963.5,615.2 1920.8,616.1 1910.4,616.6 1864.8,616.6 1820.7,616.6 1777.0,616.6 1734.5,616.6 1690.4,616.6 1602.7,619.0 1516.8,620.4 1428.0,621.9 1340.9,624.3 1253.8,626.7 1167.5,630.5 1073.6,820.6 982.2,861.4 884.6,886.4 826.7,904.1 733.1,929.1 645.4,956.9 543.3,995.3 443.5,1047.6 314.7,1212.8" fill="none" stroke="#428682" stroke-width="5.5" stroke-linejoin="round" stroke-linecap="round"/>
<circle cx="2035.4" cy="608.0" r="14.2" fill="#2a9790" stroke="#2a9790" stroke-width="1"/>
<circle cx="2000.9" cy="614.2" r="14.2" fill="#2a9790" stroke="#2a9790" stroke-width="1"/>
<circle cx="1963.5" cy="615.2" r="14.2" fill="#2a9790" stroke="#2a9790" stroke-width="1"/>
<circle cx="1920.8" cy="616.1" r="14.2" fill="#2a9790" stroke="#2a9790" stroke-width="1"/>
<circle cx="1910.4" cy="616.6" r="14.2" fill="#2a9790" stroke="#2a9790" stroke-width="1"/>
<circle cx="1864.8" cy="616.6" r="14.2" fill="#2a9790" stroke="#2a9790" stroke-width="1"/>
<circle cx="1820.7" cy="616.6" r="14.2" fill="#2a9790" stroke="#2a9790" stroke-width="1"/>
<circle cx="1777.0" cy="616.6" r="14.2" fill="#2a9790" stroke="#2a9790" stroke-width="1"/>
<circle cx="1734.5" cy="616.6" r="14.2" fill="#2a9790" stroke="#2a9790" stroke-width="1"/>
<circle cx="1690.4" cy="616.6" r="14.2" fill="#2a9790" stroke="#2a9790" stroke-width="1"/>
<circle cx="1602.7" cy="619.0" r="14.2" fill="#2a9790" stroke="#2a9790" stroke-width="1"/>
<circle cx="1516.8" cy="620.4" r="14.2" fill="#2a9790" stroke="#2a9790" stroke-width="1"/>
<circle cx="1428.0" cy="621.9" r="14.2" fill="#2a9790" stroke="#2a9790" stroke-width="1"/>
<circle cx="1340.9" cy="624.3" r="14.2" fill="#2a9790" stroke="#2a9790" stroke-width="1"/>
<circle cx="1253.8" cy="626.7" r="14.2" fill="#2a9790" stroke="#2a9790" stroke-width="1"/>
<circle cx="1167.5" cy="630.5" r="14.2" fill="#2a9790" stroke="#2a9790" stroke-width="1"/>
<circle cx="1073.6" cy="820.6" r="14.2" fill="#2a9790" stroke="#2a9790" stroke-width="1"/>
<circle cx="982.2" cy="861.4" r="14.2" fill="#2a9790" stroke="#2a9790" stroke-width="1"/>
<circle cx="884.6" cy="886.4" r="14.2" fill="#2a9790" stroke="#2a9790" stroke-width="1"/>
<circle cx="826.7" cy="904.1" r="14.2" fill="#2a9790" stroke="#2a9790" stroke-width="1"/>
<circle cx="733.1" cy="929.1" r="14.2" fill="#2a9790" stroke="#2a9790" stroke-width="1"/>
<circle cx="645.4" cy="956.9" r="14.2" fill="#2a9790" stroke="#2a9790" stroke-width="1"/>
<circle cx="543.3" cy="995.3" r="14.2" fill="#2a9790" stroke="#2a9790" stroke-width="1"/>
<circle cx="443.5" cy="1047.6" r="14.2" fill="#2a9790" stroke="#2a9790" stroke-width="1"/>
<circle cx="314.7" cy="1212.8" r="14.2" fill="#2a9790" stroke="#2a9790" stroke-width="1"/>
<polyline points="2036.6,730.8 2000.9,740.9 1962.6,742.4 1919.1,743.3 1910.4,743.3 1863.4,744.3 1819.8,745.2 1776.3,745.7 1734.5,745.7 1690.4,747.2 1602.7,748.1 1516.8,750.5 1428.0,755.3 1343.9,766.6 1258.2,795.6 1169.9,851.8 1076.9,1012.6 982.2,1045.0 884.6,1065.4 823.7,1082.7 733.1,1101.4 645.5,1125.9 542.4,1154.7 439.2,1192.6 314.8,1309.2" fill="none" stroke="#a69242" stroke-width="5.5" stroke-linejoin="round" stroke-linecap="round"/>
<path d="M2036.6,715.1L2041.2,725.3L2052.3,726.5L2044.1,734.1L2046.3,745.0L2036.6,739.4L2026.9,745.0L2029.2,734.1L2021.0,726.5L2032.1,725.3Z" fill="#bf9c2c" stroke="#bf9c2c" stroke-width="1" stroke-linejoin="round"/>
<path d="M2000.9,725.2L2005.5,735.4L2016.6,736.6L2008.4,744.1L2010.6,755.1L2000.9,749.5L1991.2,755.1L1993.5,744.1L1985.3,736.6L1996.4,735.4Z" fill="#bf9c2c" stroke="#bf9c2c" stroke-width="1" stroke-linejoin="round"/>
<path d="M1962.6,726.7L1967.2,736.8L1978.3,738.1L1970.1,745.6L1972.3,756.5L1962.6,751.0L1952.9,756.5L1955.2,745.6L1946.9,738.1L1958.0,736.8Z" fill="#bf9c2c" stroke="#bf9c2c" stroke-width="1" stroke-linejoin="round"/>
<path d="M1919.1,727.6L1923.7,737.8L1934.8,739.0L1926.5,746.5L1928.8,757.5L1919.1,751.9L1909.4,757.5L1911.7,746.5L1903.4,739.0L1914.5,737.8Z" fill="#bf9c2c" stroke="#bf9c2c" stroke-width="1" stroke-linejoin="round"/>
<path d="M1910.4,727.6L1915.0,737.8L1926.1,739.0L1917.8,746.5L1920.1,757.5L1910.4,751.9L1900.7,757.5L1903.0,746.5L1894.7,739.0L1905.8,737.8Z" fill="#bf9c2c" stroke="#bf9c2c" stroke-width="1" stroke-linejoin="round"/>
<path d="M1863.4,728.6L1868.0,738.8L1879.1,740.0L1870.8,747.5L1873.1,758.4L1863.4,752.9L1853.7,758.4L1855.9,747.5L1847.7,740.0L1858.8,738.8Z" fill="#bf9c2c" stroke="#bf9c2c" stroke-width="1" stroke-linejoin="round"/>
<path d="M1819.8,729.5L1824.4,739.7L1835.5,740.9L1827.2,748.5L1829.5,759.4L1819.8,753.8L1810.1,759.4L1812.4,748.5L1804.1,740.9L1815.2,739.7Z" fill="#bf9c2c" stroke="#bf9c2c" stroke-width="1" stroke-linejoin="round"/>
<path d="M1776.3,730.0L1780.9,740.2L1792.0,741.4L1783.7,748.9L1786.0,759.9L1776.3,754.3L1766.6,759.9L1768.9,748.9L1760.6,741.4L1771.7,740.2Z" fill="#bf9c2c" stroke="#bf9c2c" stroke-width="1" stroke-linejoin="round"/>
<path d="M1734.5,730.0L1739.1,740.2L1750.2,741.4L1741.9,748.9L1744.2,759.9L1734.5,754.3L1724.8,759.9L1727.1,748.9L1718.8,741.4L1729.9,740.2Z" fill="#bf9c2c" stroke="#bf9c2c" stroke-width="1" stroke-linejoin="round"/>
<path d="M1690.4,731.5L1695.0,741.6L1706.1,742.9L1697.9,750.4L1700.1,761.3L1690.4,755.8L1680.7,761.3L1683.0,750.4L1674.7,742.9L1685.9,741.6Z" fill="#bf9c2c" stroke="#bf9c2c" stroke-width="1" stroke-linejoin="round"/>
<path d="M1602.7,732.4L1607.2,742.6L1618.4,743.8L1610.1,751.3L1612.4,762.3L1602.7,756.7L1593.0,762.3L1595.2,751.3L1587.0,743.8L1598.1,742.6Z" fill="#bf9c2c" stroke="#bf9c2c" stroke-width="1" stroke-linejoin="round"/>
<path d="M1516.8,734.8L1521.4,745.0L1532.5,746.2L1524.2,753.7L1526.5,764.7L1516.8,759.1L1507.1,764.7L1509.4,753.7L1501.1,746.2L1512.2,745.0Z" fill="#bf9c2c" stroke="#bf9c2c" stroke-width="1" stroke-linejoin="round"/>
<path d="M1428.0,739.6L1432.6,749.8L1443.7,751.0L1435.4,758.5L1437.7,769.5L1428.0,763.9L1418.3,769.5L1420.6,758.5L1412.3,751.0L1423.4,749.8Z" fill="#bf9c2c" stroke="#bf9c2c" stroke-width="1" stroke-linejoin="round"/>
<path d="M1343.9,750.9L1348.5,761.1L1359.6,762.3L1351.3,769.8L1353.6,780.7L1343.9,775.2L1334.2,780.7L1336.5,769.8L1328.2,762.3L1339.3,761.1Z" fill="#bf9c2c" stroke="#bf9c2c" stroke-width="1" stroke-linejoin="round"/>
<path d="M1258.2,779.9L1262.8,790.1L1273.9,791.3L1265.6,798.9L1267.9,809.8L1258.2,804.2L1248.5,809.8L1250.8,798.9L1242.5,791.3L1253.6,790.1Z" fill="#bf9c2c" stroke="#bf9c2c" stroke-width="1" stroke-linejoin="round"/>
<path d="M1169.9,836.1L1174.5,846.3L1185.6,847.5L1177.3,855.0L1179.6,865.9L1169.9,860.4L1160.2,865.9L1162.5,855.0L1154.2,847.5L1165.3,846.3Z" fill="#bf9c2c" stroke="#bf9c2c" stroke-width="1" stroke-linejoin="round"/>
<path d="M1076.9,996.9L1081.5,1007.1L1092.6,1008.3L1084.3,1015.8L1086.6,1026.7L1076.9,1021.2L1067.2,1026.7L1069.5,1015.8L1061.2,1008.3L1072.3,1007.1Z" fill="#bf9c2c" stroke="#bf9c2c" stroke-width="1" stroke-linejoin="round"/>
<path d="M982.2,1029.3L986.8,1039.5L997.9,1040.7L989.6,1048.2L991.9,1059.1L982.2,1053.6L972.5,1059.1L974.7,1048.2L966.5,1040.7L977.6,1039.5Z" fill="#bf9c2c" stroke="#bf9c2c" stroke-width="1" stroke-linejoin="round"/>
<path d="M884.6,1049.7L889.2,1059.9L900.3,1061.1L892.1,1068.6L894.3,1079.5L884.6,1074.0L874.9,1079.5L877.2,1068.6L869.0,1061.1L880.1,1059.9Z" fill="#bf9c2c" stroke="#bf9c2c" stroke-width="1" stroke-linejoin="round"/>
<path d="M823.7,1067.0L828.3,1077.2L839.4,1078.4L831.1,1085.9L833.4,1096.8L823.7,1091.3L814.0,1096.8L816.3,1085.9L808.0,1078.4L819.1,1077.2Z" fill="#bf9c2c" stroke="#bf9c2c" stroke-width="1" stroke-linejoin="round"/>
<path d="M733.1,1085.7L737.7,1095.9L748.8,1097.1L740.6,1104.6L742.8,1115.5L733.1,1110.0L723.4,1115.5L725.7,1104.6L717.4,1097.1L728.5,1095.9Z" fill="#bf9c2c" stroke="#bf9c2c" stroke-width="1" stroke-linejoin="round"/>
<path d="M645.5,1110.2L650.1,1120.4L661.2,1121.6L653.0,1129.1L655.2,1140.0L645.5,1134.5L635.8,1140.0L638.1,1129.1L629.8,1121.6L641.0,1120.4Z" fill="#bf9c2c" stroke="#bf9c2c" stroke-width="1" stroke-linejoin="round"/>
<path d="M542.4,1139.0L547.0,1149.2L558.1,1150.4L549.9,1157.9L552.1,1168.8L542.4,1163.3L532.7,1168.8L535.0,1157.9L526.7,1150.4L537.9,1149.2Z" fill="#bf9c2c" stroke="#bf9c2c" stroke-width="1" stroke-linejoin="round"/>
<path d="M439.2,1176.9L443.8,1187.1L454.9,1188.3L446.6,1195.8L448.9,1206.7L439.2,1201.2L429.5,1206.7L431.8,1195.8L423.5,1188.3L434.6,1187.1Z" fill="#bf9c2c" stroke="#bf9c2c" stroke-width="1" stroke-linejoin="round"/>
<path d="M314.8,1293.5L319.4,1303.7L330.5,1304.9L322.2,1312.5L324.5,1323.4L314.8,1317.8L305.1,1323.4L307.4,1312.5L299.1,1304.9L310.2,1303.7Z" fill="#bf9c2c" stroke="#bf9c2c" stroke-width="1" stroke-linejoin="round"/>
</g>
<g stroke="#1c1c1c" stroke-width="4.8" fill="none" stroke-linecap="square">
<path d="M282.5,41.8V1364.5M2058.5,41.8V1364.5M282.5,1364.5H2058.5M282.5,41.8H2058.5"/>
</g>
<g stroke="#1c1c1c" stroke-width="4.6" fill="none" stroke-linecap="butt"><path d="M254.5,1244.2H282.5"/><path d="M254.5,1003.7H282.5"/><path d="M254.5,763.2H282.5"/><path d="M254.5,522.7H282.5"/><path d="M254.5,282.2H282.5"/><path d="M254.5,41.7H282.5"/><path d="M266.5,1364.5H282.5"/><path d="M266.5,1124.0H282.5"/><path d="M266.5,883.4H282.5"/><path d="M266.5,643.0H282.5"/><path d="M266.5,402.4H282.5"/><path d="M266.5,161.9H282.5"/><path d="M299.5,1364.5V1390.5"/><path d="M647.8,1364.5V1390.5"/><path d="M996.1,1364.5V1390.5"/><path d="M1344.4,1364.5V1390.5"/><path d="M1692.7,1364.5V1390.5"/><path d="M2041.0,1364.5V1390.5"/><path d="M473.6,1364.5V1377.5"/><path d="M822.0,1364.5V1377.5"/><path d="M1170.2,1364.5V1377.5"/><path d="M1518.6,1364.5V1377.5"/><path d="M1866.9,1364.5V1377.5"/>
</g>
<text x="240" y="1260.2" font-size="57" text-anchor="end">50</text>
<text x="240" y="1019.7" font-size="57" text-anchor="end">100</text>
<text x="240" y="779.2" font-size="57" text-anchor="end">150</text>
<text x="240" y="538.7" font-size="57" text-anchor="end">200</text>
<text x="240" y="298.2" font-size="57" text-anchor="end">250</text>
<text x="240" y="57.7" font-size="57" text-anchor="end">300</text>
<text x="299.5" y="1451" font-size="57" text-anchor="middle">0.0</text>
<text x="647.8" y="1451" font-size="57" text-anchor="middle">0.2</text>
<text x="996.1" y="1451" font-size="57" text-anchor="middle">0.4</text>
<text x="1344.4" y="1451" font-size="57" text-anchor="middle">0.6</text>
<text x="1692.7" y="1451" font-size="57" text-anchor="middle">0.8</text>
<text x="2041.0" y="1451" font-size="57" text-anchor="middle">1.0</text>
<text x="1170" y="1563.5" font-size="68.4" text-anchor="middle">Relative Pressure (P/Po)</text>
<text transform="translate(75,756.6) rotate(-90)" font-size="68.4" text-anchor="middle">Quantity Adsorbed (cm<tspan font-size="45" dy="-33">3</tspan><tspan dy="33">/g STP)</tspan></text>
<path d="M343,122.2H502" stroke="#92283a" stroke-width="5" fill="none"/>
<path d="M422.7,103.2L437.9,131.7L407.4,131.7Z" fill="#fff4f6" stroke="#b0707c" stroke-width="2.6" stroke-linejoin="miter"/>
<text x="519" y="145.2" font-size="67">Zr</text><text x="626.3" y="142.4" class="cj" text-anchor="middle">：</text><text x="661.5" y="145.2" font-size="67">Mg</text><text transform="translate(796.5,142.6) scale(1.19,0.885)" font-size="67" text-anchor="middle">=</text><text x="867" y="145.2" font-size="67" text-anchor="middle">10</text><text x="935" y="142.4" class="cj" text-anchor="middle">：</text><text x="985" y="145.2" font-size="67" text-anchor="middle">0</text>
<path d="M343,207.8H502" stroke="#0a0a86" stroke-width="5" fill="none"/>
<path d="M409.4,194.5h26.6v26.6h-26.6Z" fill="#f6f6ff" stroke="#6868a4" stroke-width="2.6" stroke-linejoin="miter"/>
<text x="519" y="230.8" font-size="67">Zr</text><text x="626.3" y="228.0" class="cj" text-anchor="middle">：</text><text x="661.5" y="230.8" font-size="67">Mg</text><text transform="translate(796.5,228.2) scale(1.19,0.885)" font-size="67" text-anchor="middle">=</text><text x="881" y="230.8" font-size="67" text-anchor="middle">9</text><text x="932.5" y="228.0" class="cj" text-anchor="middle">：</text><text x="985" y="230.8" font-size="67" text-anchor="middle">1</text>
<path d="M343,295.6H502" stroke="#743690" stroke-width="5" fill="none"/>
<path d="M422.7,278.1L438.7,295.6L422.7,313.1L406.7,295.6Z" fill="#fdf4ff" stroke="#a486bc" stroke-width="2.6" stroke-linejoin="miter"/>
<text x="519" y="318.6" font-size="67">Zr</text><text x="626.3" y="315.8" class="cj" text-anchor="middle">：</text><text x="661.5" y="318.6" font-size="67">Mg</text><text transform="translate(796.5,316.0) scale(1.19,0.885)" font-size="67" text-anchor="middle">=</text><text x="881" y="318.6" font-size="67" text-anchor="middle">8</text><text x="932.5" y="315.8" class="cj" text-anchor="middle">：</text><text x="985" y="318.6" font-size="67" text-anchor="middle">2</text>
<path d="M343,381.6H502" stroke="#428682" stroke-width="5" fill="none"/>
<circle cx="422.7" cy="381.6" r="13.3" fill="#ecfcfc" stroke="#74a6a4" stroke-width="2.6"/>
<text x="519" y="404.6" font-size="67">Zr</text><text x="626.3" y="401.8" class="cj" text-anchor="middle">：</text><text x="661.5" y="404.6" font-size="67">Mg</text><text transform="translate(796.5,402.0) scale(1.19,0.885)" font-size="67" text-anchor="middle">=</text><text x="881" y="404.6" font-size="67" text-anchor="middle">7</text><text x="932.5" y="401.8" class="cj" text-anchor="middle">：</text><text x="985" y="404.6" font-size="67" text-anchor="middle">3</text>
<path d="M343,467.2H502" stroke="#a69242" stroke-width="5" fill="none"/>
<path d="M422.7,452.0L427.2,461.9L437.9,463.1L429.9,470.3L432.1,480.9L422.7,475.6L413.3,480.9L415.5,470.3L407.5,463.1L418.2,461.9Z" fill="#fffff0" stroke="#bcae70" stroke-width="2.6" stroke-linejoin="round"/>
<text x="519" y="490.2" font-size="67">Zr</text><text x="626.3" y="487.4" class="cj" text-anchor="middle">：</text><text x="661.5" y="490.2" font-size="67">Mg</text><text transform="translate(796.5,487.6) scale(1.19,0.885)" font-size="67" text-anchor="middle">=</text><text x="881" y="490.2" font-size="67" text-anchor="middle">6</text><text x="932.5" y="487.4" class="cj" text-anchor="middle">：</text><text x="985" y="490.2" font-size="67" text-anchor="middle">4</text>
</svg>
</body></html>
